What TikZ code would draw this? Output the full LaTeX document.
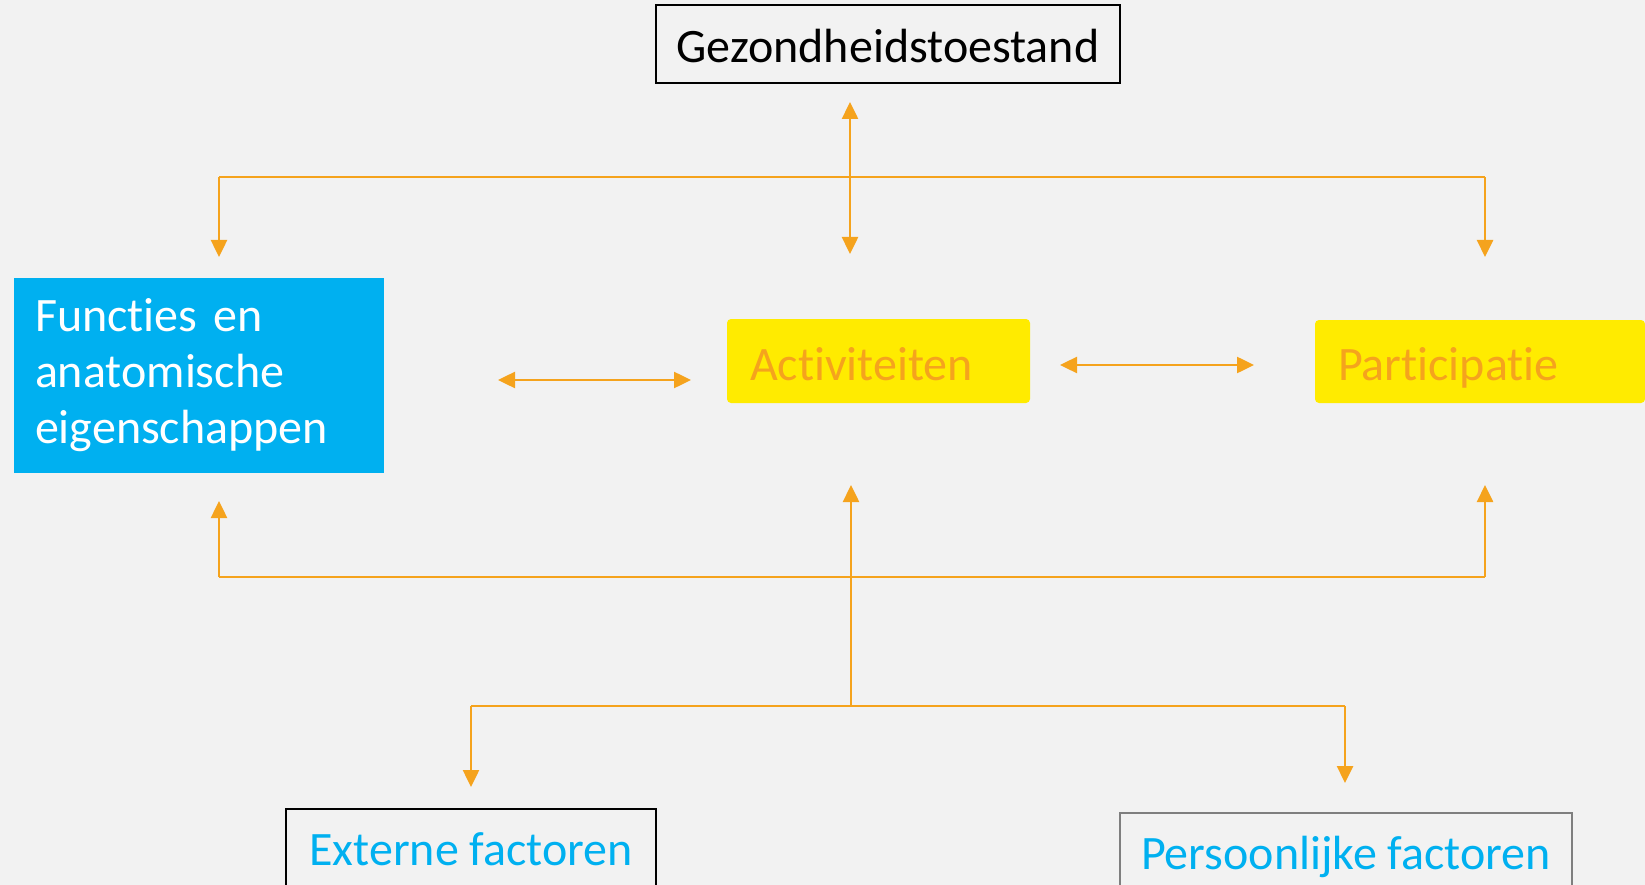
\documentclass[tikz,border=0pt]{standalone}
\usepackage{fontspec}
\setmainfont{Carlito}[Ligatures=NoCommon]
\usetikzlibrary{positioning,arrows.meta}
\definecolor{bgc}{HTML}{F2F2F2}
\definecolor{orng}{HTML}{F5A31D}
\definecolor{yel}{HTML}{FFEB00}
\definecolor{blu}{HTML}{00B0F0}
\definecolor{gry}{HTML}{7F7F7F}

\begin{document}
\begin{tikzpicture}[x=1pt, y=-1pt,
    lbl/.style={font=\fontsize{48}{56}\selectfont},
    box/.style={lbl, inner xsep=0pt, inner ysep=0pt, text height=38pt, text depth=0pt},
    framed/.style={box, draw=black, line width=1.5pt},
    hilite/.style={box, fill=yel, rounded corners=4pt, text=orng, align=left},
    link/.style={draw=orng, line width=2.5pt, -{Triangle[length=17pt,width=16pt]}},
    both/.style={link, {Triangle[length=17pt,width=16pt]}-{Triangle[length=17pt,width=16pt]}},
    bus/.style={draw=orng, line width=1.6pt}]
    \useasboundingbox (0,0) rectangle (1645,885);
    \clip (0,0) rectangle (1645,885);
    \fill [bgc] (0,0) rectangle (1645,885);

    \node [framed, minimum width=464pt, minimum height=78pt] (gez) at (888,44) {Gezondheidstoestand};
    \node [lbl, fill=blu, text=white, align=left, text width=328pt, inner xsep=21pt,
        minimum width=370pt, minimum height=195pt] (func) at (199,375.5) {Functies en\\anatomische\\eigenschappen};
    \node [hilite, text width=257pt, inner xsep=23pt, minimum height=84pt] (act) at (878.5,361) {Activiteiten};
    \node [hilite, text width=284pt, inner xsep=23pt, minimum height=83pt] (part) at (1480,361.5) {Participatie};
    \node [framed, text=blu, text depth=34pt, minimum width=370pt, minimum height=110pt,
        anchor=north] (ext) at (471,808) {Externe factoren};
    \node [framed, draw=gry, text=blu, text depth=34pt, minimum width=452pt, minimum height=110pt,
        anchor=north] (pers) at (1346,812) {Persoonlijke factoren};

    \coordinate (gzup) at (850,102);
    \coordinate (gzdn) at (850,254);
    \coordinate (tl) at (219,177);
    \coordinate (tr) at (1485,177);
    \coordinate [below = 80pt of tl] (tlend);
    \coordinate [below = 80pt of tr] (trend);
    \coordinate (fa1) at (498,380);
    \coordinate (fa2) at (691,380);
    \coordinate (ap1) at (1060,365);
    \coordinate (ap2) at (1254,365);
    \coordinate (bl) at (219,577);
    \coordinate (br) at (1485,577);
    \coordinate [above = 76pt of bl] (blend);
    \coordinate [above = 92pt of br] (brend);
    \coordinate (mid) at (851,706);
    \coordinate (midend) at (851,485);
    \coordinate (el) at (471,706);
    \coordinate (pr) at (1345,706);
    \coordinate [below = 81pt of el] (elend);
    \coordinate [below = 77pt of pr] (prend);

    \draw [both] (gzup) -- (gzdn);
    \draw [bus] (tl) -- (tr);
    \draw [link] (tl) -- (tlend);
    \draw [link] (tr) -- (trend);
    \draw [both] (fa1) -- (fa2);
    \draw [both] (ap1) -- (ap2);
    \draw [bus] (bl) -- (br);
    \draw [link] (bl) -- (blend);
    \draw [link] (br) -- (brend);
    \draw [link] (mid) -- (midend);
    \draw [bus] (el) -- (pr);
    \draw [link] (el) -- (elend);
    \draw [link] (pr) -- (prend);
\end{tikzpicture}
\end{document}
